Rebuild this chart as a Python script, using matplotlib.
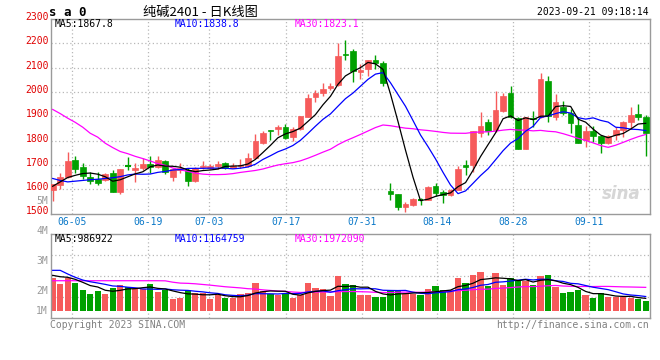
import numpy as np
import matplotlib
matplotlib.use("Agg")
import matplotlib.pyplot as plt
from matplotlib.patches import Rectangle
from matplotlib.transforms import blended_transform_factory, ScaledTranslation

# ---------------- data (05-31 .. 09-21, daily) ----------------
opens = [1596, 1617, 1650, 1722, 1693, 1650, 1641, 1638, 1668, 1589,
         1696, 1679, 1686, 1702, 1691, 1714, 1650, 1679, 1679, 1633,
         1690, 1688, 1694, 1707, 1688, 1694, 1694, 1730, 1790, 1844,
         1846, 1857, 1814, 1848, 1898, 1980, 1997, 2016, 2028, 2158,
         2168, 2083, 2093, 2133, 2121, 1594, 1582, 1526, 1534, 1558,
         1557, 1615, 1589, 1578, 1598, 1700, 1700, 1833, 1877, 1844,
         1923, 1997, 1892, 1765, 1894, 1896, 2044, 1898, 1940, 1914,
         1865, 1803, 1840, 1817, 1792, 1824, 1844, 1876, 1911, 1897]
highs = [1623, 1666, 1755, 1736, 1706, 1669, 1671, 1666, 1678, 1684,
         1731, 1706, 1728, 1736, 1735, 1722, 1687, 1706, 1687, 1692,
         1717, 1703, 1714, 1710, 1707, 1723, 1748, 1826, 1840, 1844,
         1864, 1868, 1857, 1903, 1991, 2008, 2038, 2038, 2201, 2212,
         2175, 2114, 2130, 2153, 2126, 1626, 1582, 1546, 1564, 1564,
         1612, 1625, 1598, 1601, 1694, 1718, 1840, 1919, 1889, 2005,
         1997, 2025, 1898, 1898, 1923, 2078, 2065, 1991, 1962, 1931,
         1898, 1861, 1858, 1824, 1823, 1856, 1879, 1939, 1949, 1904]
lows = [1551, 1602, 1648, 1667, 1641, 1620, 1618, 1633, 1589, 1581,
        1679, 1631, 1680, 1668, 1687, 1664, 1635, 1667, 1612, 1630,
        1683, 1684, 1684, 1684, 1686, 1687, 1690, 1727, 1785, 1803,
        1823, 1805, 1799, 1845, 1895, 1960, 1985, 2010, 2025, 2130,
        2042, 2055, 2065, 2093, 2025, 1557, 1514, 1505, 1530, 1534,
        1555, 1571, 1544, 1574, 1595, 1660, 1669, 1814, 1823, 1837,
        1919, 1891, 1765, 1765, 1857, 1892, 1878, 1885, 1905, 1831,
        1789, 1775, 1796, 1750, 1786, 1803, 1814, 1847, 1885, 1737]
closes = [1623, 1650, 1714, 1681, 1654, 1633, 1626, 1662, 1589, 1684,
          1694, 1686, 1705, 1691, 1722, 1671, 1682, 1686, 1633, 1688,
          1694, 1694, 1705, 1688, 1694, 1700, 1730, 1800, 1830, 1840,
          1857, 1810, 1848, 1901, 1977, 1997, 2012, 2023, 2147, 2151,
          2087, 2092, 2130, 2117, 2038, 1580, 1527, 1541, 1561, 1556,
          1609, 1585, 1578, 1596, 1684, 1692, 1840, 1860, 1840, 1926,
          1983, 1898, 1765, 1896, 1887, 2055, 1901, 1960, 1914, 1872,
          1792, 1840, 1817, 1792, 1817, 1844, 1876, 1907, 1896, 1831]
# volume in millions of lots
volumes = [2.89, 2.37, 2.89, 2.46, 1.84, 1.46, 1.75, 1.46, 2.02, 2.25,
           2.08, 1.87, 1.87, 2.34, 1.64, 1.81, 1.02, 1.11, 1.81, 1.52,
           1.52, 1.02, 1.35, 1.14, 1.14, 1.46, 1.55, 2.46, 1.73, 1.46,
           1.35, 1.52, 1.14, 1.35, 2.46, 1.99, 1.90, 1.32, 3.04, 2.34,
           2.25, 1.35, 1.35, 1.20, 1.20, 1.81, 1.81, 1.46, 1.46, 1.35,
           1.90, 2.16, 1.81, 1.81, 2.87, 2.43, 3.13, 3.39, 2.16, 3.30,
           2.25, 2.87, 2.60, 2.60, 2.25, 3.04, 3.13, 2.08, 1.55, 1.64,
           1.81, 1.37, 1.11, 1.55, 1.20, 1.20, 1.20, 1.14, 1.02, 0.85]

# moving-average values before enough history is visible
ma5_head = [1612, 1630, 1648, 1657]
ma10_head = [1644, 1636, 1630, 1633, 1636, 1639, 1641, 1644, 1647]
ma30_head = [1928, 1911, 1892, 1875, 1855, 1830, 1814, 1789, 1771, 1755,
             1746, 1735, 1726, 1716, 1705, 1698, 1687, 1680, 1673, 1666,
             1662, 1660, 1660, 1661, 1664, 1669, 1673, 1677, 1683]
vma5_head = [3.10, 2.98, 2.93, 2.75]
vma10_head = [3.54, 3.54, 3.22, 2.93, 2.69, 2.54, 2.43, 2.31, 2.17]
vma30_head = [2.63, 2.63, 2.63, 2.63, 2.63, 2.63, 2.63, 2.63, 2.63, 2.63,
              2.63, 2.63, 2.63, 2.63, 2.63, 2.62, 2.50, 2.42, 2.40, 2.36,
              2.30, 2.24, 2.17, 2.10, 2.05, 2.00, 1.93, 1.90, 1.83]

date_labels = ["06-05", "06-19", "07-03", "07-17", "07-31", "08-14", "08-28", "09-11"]
date_grid_pos = [2.61, 12.74, 20.86, 31.04, 41.17, 51.24, 61.37, 71.49]
price_ticks = [1500, 1600, 1700, 1800, 1900, 2000, 2100, 2200, 2300]

title_code = "s a 0"
title_cn = "纯碱2401 - 日K线图"
timestamp = "2023-09-21 09:18:14"
price_ma_text = ["MA5:1867.8", "MA10:1838.8", "MA30:1823.1"]
vol_ma_text = ["MA5:986922", "MA10:1164759", "MA30:1972090"]


def moving_avg(vals, n, head):
    out = list(head)
    for i in range(len(head), len(vals)):
        out.append(float(np.mean(vals[i - n + 1:i + 1])))
    return np.array(out)


RED = "#f65b5b"
GREEN = "#00a000"
GRID = "#b8b8b8"
FRAME = "#9a9a9a"
MONO = "DejaVu Sans Mono"
W, H = 660, 360

fig = plt.figure(figsize=(6.6, 3.6), dpi=100)
fig.patch.set_facecolor("white")


def px_axes(l, t, r, b):
    return fig.add_axes([l / W, 1 - b / H, (r - l) / W, (b - t) / H])


n = len(closes)
idx = np.arange(n)
x0 = 52.7
x1 = 645.7
step = (x1 - x0) / (n - 1)
xlim = ((51 - x0) / step, (650 - x0) / step)

ax = px_axes(51, 19, 650, 213.5)
axv = px_axes(51, 234, 650, 318)

for a in (ax, axv):
    a.set_xlim(*xlim)
    for s in a.spines.values():
        s.set_color(FRAME)
        s.set_linewidth(1.0)
    a.set_xticks([])
    a.set_yticks([])
    for xp in date_grid_pos:
        a.axvline(xp, color=GRID, lw=0.9, ls=(0, (1, 2)), zorder=0)

# ---------------- price panel ----------------
ax.set_ylim(1500, 2300)
for p in price_ticks[1:-1]:
    ax.axhline(p, color=GRID, lw=0.9, ls=(0, (1, 2)), zorder=0)

bw = 0.76
for i in range(n):
    o, h, l, c = opens[i], highs[i], lows[i], closes[i]
    col = RED if c >= o else GREEN
    ax.vlines(i, l, h, color=col, lw=1.0, zorder=2)
    lo, hi = min(o, c), max(o, c)
    if hi - lo < 3:
        ax.hlines((o + c) / 2, i - bw / 2, i + bw / 2, color=col, lw=1.5, zorder=3)
    else:
        ax.add_patch(Rectangle((i - bw / 2, lo), bw, hi - lo, facecolor=col,
                               edgecolor=col, lw=0.5, zorder=3))

ma5 = moving_avg(closes, 5, ma5_head)
ma10 = moving_avg(closes, 10, ma10_head)
ma30 = moving_avg(closes, 30, ma30_head)
ax.plot(idx, ma30, color="#ff00ff", lw=0.9, zorder=4)
ax.plot(idx, ma10, color="#0000ff", lw=0.9, zorder=4)
ax.plot(idx, ma5, color="black", lw=0.9, zorder=4)

lab_tr = blended_transform_factory(ax.transAxes, ax.transData) + \
    ScaledTranslation(0, 2 / 100, fig.dpi_scale_trans)
for p in price_ticks:
    ax.text(-0.003, p, str(p), transform=lab_tr, ha="right", va="center",
            color="#e00000", fontsize=7, family=MONO, clip_on=False)

# watermark
ax.text(0.985, 0.055, "sina", transform=ax.transAxes, ha="right", va="bottom",
        fontsize=12, style="italic", fontweight="bold", color="#d6d6d6", zorder=1)

# ---------------- volume panel ----------------
vb = 310.7   # pixel of zero volume
k = 11.4     # pixels per million
axv.set_ylim(-(318 - vb) / k, (vb - 234) / k)
vlo, vhi = axv.get_ylim()
for f in (0.25, 0.5, 0.75):
    axv.axhline(vlo + f * (vhi - vlo), color=GRID, lw=0.9, ls=(0, (1, 2)), zorder=0)

for i in range(n):
    col = RED if closes[i] >= opens[i] else GREEN
    axv.add_patch(Rectangle((i - bw / 2 - 0.04, 0), bw + 0.08, volumes[i],
                            facecolor=col, edgecolor="none", zorder=2))

vma5 = moving_avg(volumes, 5, vma5_head)
vma10 = moving_avg(volumes, 10, vma10_head)
vma30 = moving_avg(volumes, 30, vma30_head)
axv.plot(idx, vma30, color="#ff00ff", lw=0.9, zorder=4)
axv.plot(idx, vma10, color="#0000ff", lw=0.9, zorder=4)
axv.plot(idx, vma5, color="black", lw=0.9, zorder=4)

# ---------------- texts ----------------
def ftext(x, y, s, **kw):
    fig.text(x / W, 1 - y / H, s, **kw)

ftext(49, 12, title_code, ha="left", va="center", fontsize=9, family=MONO,
      fontweight="bold", color="black")
ftext(200, 12, title_cn, ha="center", va="center", fontsize=9.5,
      family=["Noto Sans CJK SC", "DejaVu Sans"], color="black")
ftext(649, 12, timestamp, ha="right", va="center", fontsize=7, family=MONO, color="black")

for s, xp, col in zip(price_ma_text, (54.5, 174.5, 294.5), ("black", "#0000ff", "#ff00ff")):
    ftext(xp, 24, s, ha="left", va="center", fontsize=7, family=MONO, color=col)
for s, xp, col in zip(vol_ma_text, (54.5, 174.5, 294.5), ("black", "#0000ff", "#ff00ff")):
    ftext(xp, 239.5, s, ha="left", va="center", fontsize=7, family=MONO, color=col)

for lab, xp in zip(date_labels, date_grid_pos):
    ax.text(xp, 0, lab, transform=blended_transform_factory(ax.transData, ax.transAxes)
            + ScaledTranslation(0, -8.5 / 100, fig.dpi_scale_trans),
            ha="center", va="center", fontsize=7, family=MONO, color="#0a78c8", clip_on=False)

ftext(48, 200.5, "5M", ha="right", va="center", fontsize=7, family=MONO, color="#999999")
for s, yp in zip(["4M", "3M", "2M", "1M"], (231, 261, 291, 311)):
    ftext(48, yp, s, ha="right", va="center", fontsize=7, family=MONO, color="#999999")

ftext(50, 324.5, "Copyright 2023 SINA.COM", ha="left", va="center", fontsize=7,
      family=MONO, color="#808080")
ftext(649, 324.5, "http://finance.sina.com.cn", ha="right", va="center", fontsize=7,
      family=MONO, color="#808080")

fig.savefig("out.png", dpi=100, facecolor="white")
